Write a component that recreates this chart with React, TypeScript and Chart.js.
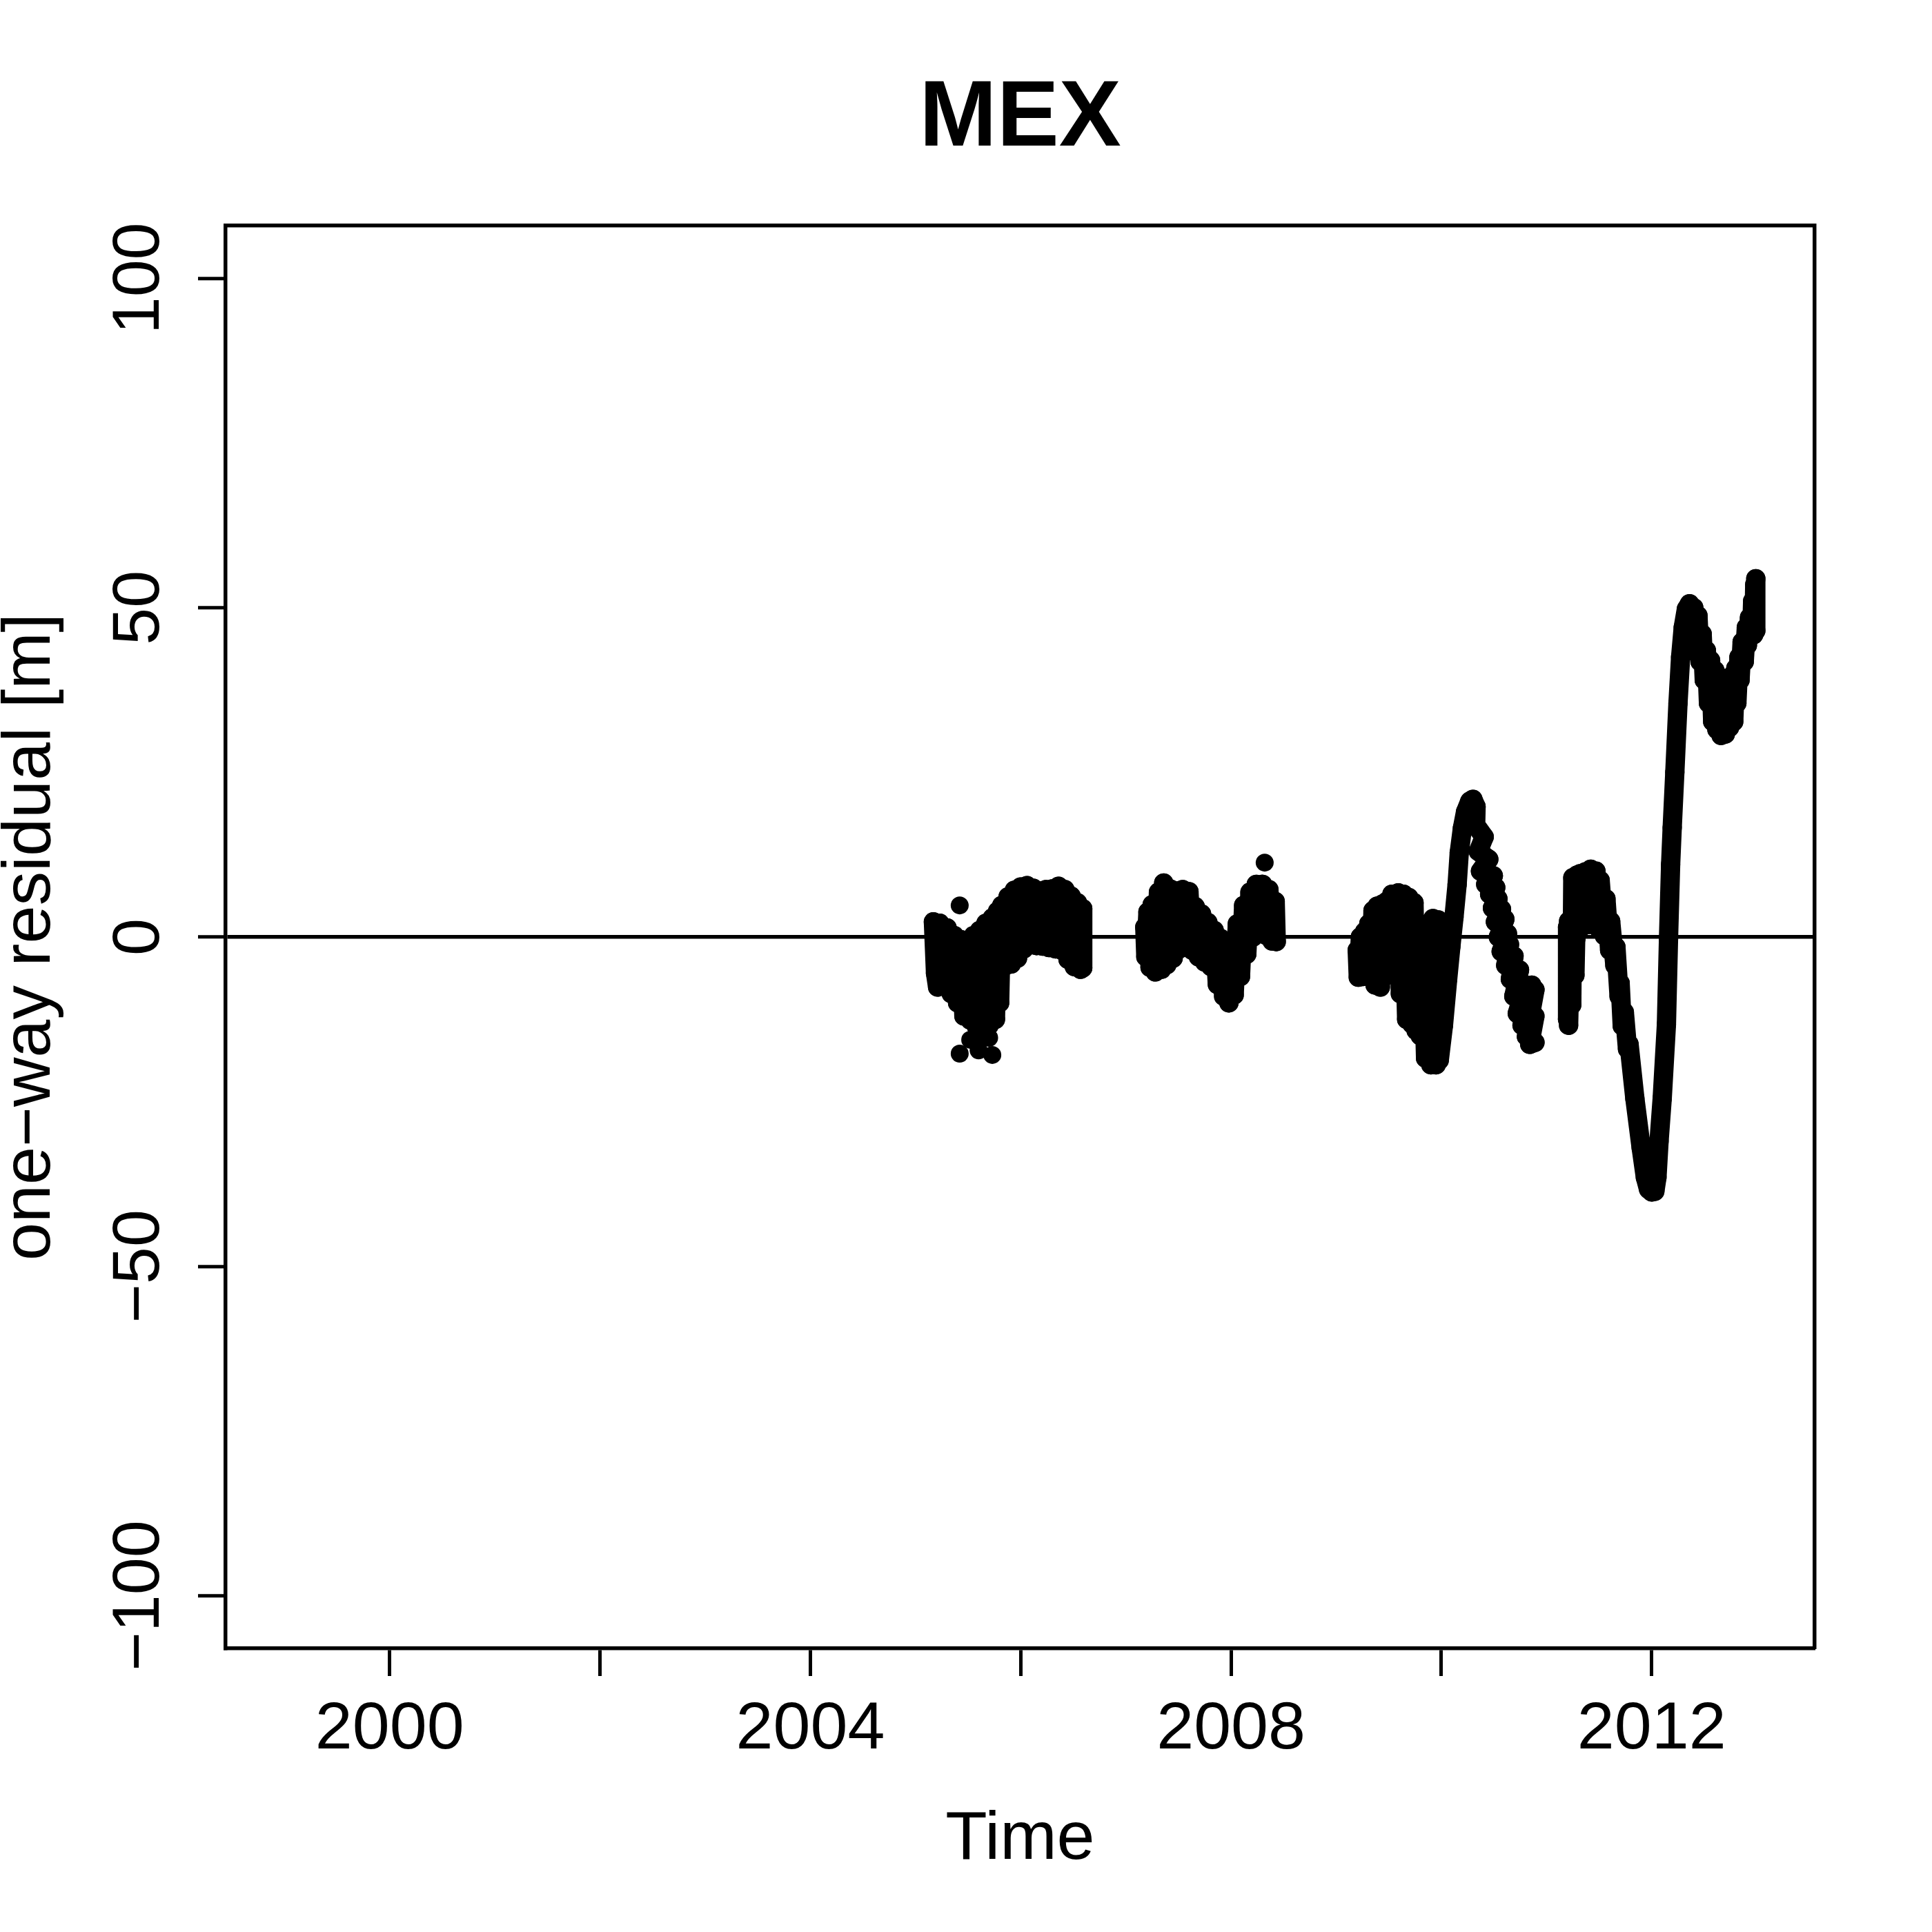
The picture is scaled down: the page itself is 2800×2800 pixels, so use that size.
import React, { useEffect, useRef } from 'react';
import { Chart, registerables } from 'chart.js';

Chart.register(...registerables);

const FONT = "'Liberation Sans', Arial, Helvetica, sans-serif";

// ---- data (decimal year, one-way residual in metres) ----
const seg1Years = [2005.17, 2005.19, 2005.21, 2005.23, 2005.27, 2005.30, 2005.34, 2005.37, 2005.40, 2005.43, 2005.46, 2005.49, 2005.52, 2005.55, 2005.58, 2005.61, 2005.64, 2005.67, 2005.70, 2005.73, 2005.76, 2005.78, 2005.80, 2005.82, 2005.85, 2005.88, 2005.91, 2005.94, 2005.97, 2006.00, 2006.03, 2006.06, 2006.09, 2006.12, 2006.15, 2006.18, 2006.21, 2006.24, 2006.27, 2006.30, 2006.33, 2006.36, 2006.39, 2006.42, 2006.45, 2006.48, 2006.51, 2006.54, 2006.57, 2006.59, 2006.59];
const seg1Resid = [2.3, -5.5, -7.6, 2.1, -7.2, 1.4, -8.6, 0.2, -10.0, -0.4, -12.0, -0.5, -12.6, 0.2, -13.6, 1.0, -13.8, 2.1, -13.4, 2.9, -12.5, 3.9, -10.0, 4.8, -4.4, 6.1, -4.1, 7.1, -3.2, 7.6, -1.8, 7.8, -1.2, 7.4, -1.3, 7.0, -1.4, 7.2, -1.6, 7.3, -1.8, 7.7, -2.0, 7.2, -3.4, 6.2, -4.5, 5.2, -4.9, 4.3, -4.7];

const seg2Years = [2007.18, 2007.19, 2007.21, 2007.23, 2007.25, 2007.28, 2007.31, 2007.34, 2007.36, 2007.39, 2007.42, 2007.45, 2007.48, 2007.51, 2007.54, 2007.57, 2007.60, 2007.63, 2007.66, 2007.69, 2007.72, 2007.75, 2007.78, 2007.81, 2007.84, 2007.87, 2007.90, 2007.93, 2007.96, 2007.98, 2008.00, 2008.03, 2008.06, 2008.09, 2008.12, 2008.15, 2008.18, 2008.21, 2008.24, 2008.27, 2008.30, 2008.33, 2008.36, 2008.39, 2008.42, 2008.43];
const seg2Resid = [1.5, -3.0, 3.8, -4.6, 4.9, -5.3, 6.8, -4.9, 8.2, -4.2, 7.3, -3.2, 7.0, -1.8, 7.2, -0.9, 6.9, -2.0, 4.6, -3.0, 3.5, -3.8, 2.2, -4.5, 1.0, -7.2, -0.2, -9.0, -1.0, -10.0, -0.6, -8.8, 2.0, -6.0, 4.8, -2.6, 6.8, 0.0, 8.0, 1.2, 8.0, 0.3, 7.2, -0.6, 5.4, -0.7];

const seg3Years = [2009.20, 2009.21, 2009.23, 2009.25, 2009.27, 2009.29, 2009.31, 2009.33, 2009.35, 2009.37, 2009.39, 2009.42, 2009.44, 2009.46, 2009.48, 2009.50, 2009.53, 2009.56, 2009.59, 2009.61, 2009.64, 2009.67, 2009.69, 2009.72, 2009.74, 2009.76, 2009.78, 2009.80, 2009.82, 2009.85, 2009.87, 2009.90, 2009.92, 2009.95, 2009.97, 2009.98, 2010.02, 2010.06, 2010.09, 2010.12, 2010.15, 2010.17, 2010.20, 2010.23, 2010.27, 2010.30, 2010.33, 2010.326, 2010.407, 2010.352, 2010.451, 2010.372, 2010.494, 2010.422, 2010.517, 2010.459, 2010.538, 2010.486, 2010.572, 2010.514, 2010.604, 2010.542, 2010.629, 2010.569, 2010.648, 2010.612, 2010.691, 2010.656, 2010.743, 2010.689, 2010.80, 2010.722, 2010.86, 2010.767, 2010.89, 2010.809, 2010.89, 2010.84, 2010.89];
const seg3Resid = [-2.0, -6.1, 0.0, -6.0, 0.8, -5.1, 2.0, -5.5, 4.0, -7.3, 4.7, -7.6, 5.0, -6.0, 5.4, -2.7, 6.5, -2.7, 6.7, -8.6, 6.5, -12.5, 6.0, -13.2, 5.2, -14.2, 2.0, -15.0, -0.7, -18.4, -1.0, -19.4, 2.8, -19.4, 2.6, -18.7, -13.4, -6.4, -1.5, 3.0, 8.0, 12.8, 16.5, 19.0, 20.6, 20.9, 19.8, 17.0, 15.2, 13.0, 11.8, 10.0, 9.3, 8.0, 7.5, 6.5, 5.8, 4.4, 4.2, 2.3, 2.7, 0.0, 0.5, -2.2, -1.15, -4.3, -2.9, -6.4, -5.0, -9.0, -7.3, -11.6, -7.3, -13.4, -8.0, -15.1, -12.0, -16.3, -16.0];

const seg4Years = [2011.20, 2011.20, 2011.21, 2011.21, 2011.23, 2011.24, 2011.25, 2011.27, 2011.29, 2011.28, 2011.32, 2011.34, 2011.37, 2011.40, 2011.42, 2011.45, 2011.47, 2011.50, 2011.51, 2011.55, 2011.565, 2011.60, 2011.61, 2011.65, 2011.66, 2011.69, 2011.70, 2011.72, 2011.74, 2011.77, 2011.785, 2011.84, 2011.90, 2011.94, 2011.97, 2012.00, 2012.03, 2012.05, 2012.07, 2012.10, 2012.14, 2012.16, 2012.18, 2012.195, 2012.22, 2012.25, 2012.275, 2012.30, 2012.33, 2012.36, 2012.38, 2012.40, 2012.42, 2012.44, 2012.46, 2012.48, 2012.50, 2012.52, 2012.54, 2012.56, 2012.58, 2012.60, 2012.62, 2012.64, 2012.66, 2012.68, 2012.70, 2012.72, 2012.74, 2012.76, 2012.78, 2012.80, 2012.81, 2012.83, 2012.84, 2012.86, 2012.88, 2012.90, 2012.91, 2012.93, 2012.95, 2012.96, 2012.97, 2012.98, 2012.99, 2012.99];
const seg4Resid = [1.5, -12.5, 2.4, -13.4, 1.0, -10.3, 9.0, -5.8, 9.4, -0.2, 9.6, 1.6, 9.9, 1.9, 10.3, 1.9, 10.0, 1.2, 8.6, 0.2, 5.8, -2.0, 2.4, -4.3, -1.5, -9.0, -7.0, -13.5, -11.4, -17.0, -16.3, -24.5, -32.0, -36.5, -38.3, -38.7, -38.6, -36.5, -31.0, -24.5, -13.3, -0.2, 11.0, 16.6, 25.0, 35.5, 42.5, 47.0, 49.8, 50.6, 44.5, 50.0, 43.2, 48.8, 41.8, 46.0, 39.0, 43.5, 35.5, 42.0, 32.7, 40.5, 31.5, 39.5, 30.6, 39.3, 30.8, 39.3, 31.8, 39.6, 32.7, 40.8, 35.5, 42.5, 39.0, 44.8, 41.8, 47.0, 44.3, 48.5, 45.8, 51.0, 45.9, 53.5, 46.5, 54.4];

// isolated observations
const outlierYears = [2005.42, 2005.42, 2005.52, 2005.60, 2005.64, 2005.73, 2005.70, 2008.32];
const outlierResid = [4.8, -17.7, -15.6, -17.2, -15.0, -17.9, -15.3, 11.3];

// axes
const xTickValues = [2000, 2002, 2004, 2006, 2008, 2010, 2012];
const xTickLabels = ['2000', '', '2004', '', '2008', '', '2012'];
const yTickValues = [-100, -50, 0, 50, 100];
const yTickLabels = ['\u2212100', '\u221250', '0', '50', '100'];
const xLimits = [1998.44, 2013.55];
const yLimits = [-108, 108];

const zip = (xs: number[], ys: number[]) => xs.map((x, i) => ({ x, y: ys[i] }));

export default function App() {
  const ref = useRef<HTMLCanvasElement | null>(null);

  useEffect(() => {
    if (!ref.current) return;
    const series = (xs: number[], ys: number[], line: boolean) => ({
      data: zip(xs, ys),
      showLine: line,
      borderColor: '#000',
      backgroundColor: '#000',
      pointBackgroundColor: '#000',
      pointBorderWidth: 0,
      pointRadius: line ? 14 : 13,
      pointHoverRadius: line ? 14 : 13,
      borderWidth: 28,
      borderJoinStyle: 'round',
      borderCapStyle: 'round',
      tension: 0,
    });

    const chart = new Chart(ref.current, {
      type: 'scatter',
      data: {
        datasets: [
          series(seg1Years, seg1Resid, true),
          series(seg2Years, seg2Resid, true),
          series(seg3Years, seg3Resid, true),
          series(seg4Years, seg4Resid, true),
          series(outlierYears, outlierResid, false),
        ] as any,
      },
      options: {
        responsive: false,
        animation: false,
        devicePixelRatio: 1,
        events: [],
        layout: { padding: 0 },
        plugins: {
          legend: { display: false },
          tooltip: { enabled: false },
          title: {
            display: true,
            text: 'MEX',
            fullSize: false,
            color: '#000',
            font: { family: FONT, size: 135, weight: 'bold', lineHeight: 1 },
            padding: { top: 106, bottom: 86 },
          },
        },
        scales: {
          x: {
            type: 'linear',
            position: 'bottom',
            min: xLimits[0],
            max: xLimits[1],
            afterBuildTicks: (axis: any) => {
              axis.ticks = xTickValues.map((v) => ({ value: v }));
            },
            afterFit: (s: any) => {
              s.height = 411;
            },
            ticks: {
              autoSkip: false,
              maxRotation: 0,
              minRotation: 0,
              padding: 20,
              color: '#000',
              font: { family: FONT, size: 97 },
              callback: (v: any) => {
                const i = xTickValues.indexOf(Number(v));
                return i >= 0 ? xTickLabels[i] : '';
              },
            },
            grid: {
              display: true,
              drawOnChartArea: false,
              drawTicks: true,
              tickLength: 40,
              tickColor: '#000',
              tickWidth: 5,
              color: '#000',
            },
            border: { display: true, color: '#000', width: 5.5 },
            title: {
              display: true,
              text: 'Time',
              color: '#000',
              font: { family: FONT, size: 99, lineHeight: 1 },
              padding: { top: 0, bottom: 84 },
            },
          },
          y: {
            type: 'linear',
            position: 'left',
            min: yLimits[0],
            max: yLimits[1],
            afterBuildTicks: (axis: any) => {
              axis.ticks = yTickValues.map((v) => ({ value: v }));
            },
            afterFit: (s: any) => {
              s.width = 327;
            },
            ticks: {
              autoSkip: false,
              minRotation: 90,
              maxRotation: 90,
              crossAlign: 'center',
              padding: -25,
              color: '#000',
              font: { family: FONT, size: 97 },
              callback: (v: any) => {
                const i = yTickValues.indexOf(Number(v));
                return i >= 0 ? yTickLabels[i] : '';
              },
            },
            grid: {
              display: true,
              drawOnChartArea: true,
              drawTicks: true,
              tickLength: 40,
              tickColor: '#000',
              tickWidth: 5,
              lineWidth: 5.5,
              color: (ctx: any) => (ctx.tick && ctx.tick.value === 0 ? '#000' : 'rgba(0,0,0,0)'),
            },
            border: { display: true, color: '#000', width: 5.5 },
            title: {
              display: true,
              text: 'one\u2212way residual [m]',
              color: '#000',
              font: { family: FONT, size: 99, lineHeight: 1 },
              padding: { top: -5, bottom: 0 },
            },
          },
          x2: {
            type: 'linear',
            position: 'top',
            axis: 'x',
            min: xLimits[0],
            max: xLimits[1],
            ticks: { display: false },
            grid: { display: false, drawTicks: false },
            border: { display: true, color: '#000', width: 5.5 },
            afterFit: (s: any) => {
              s.height = 0;
            },
          },
          y2: {
            type: 'linear',
            position: 'right',
            axis: 'y',
            min: yLimits[0],
            max: yLimits[1],
            ticks: { display: false },
            grid: { display: false, drawTicks: false },
            border: { display: true, color: '#000', width: 5.5 },
            afterFit: (s: any) => {
              s.width = 170;
            },
          },
        },
      } as any,
    });

    return () => chart.destroy();
  }, []);

  return (
    <div style={{ position: 'absolute', left: 0, top: 0, width: 2800, height: 2800, background: '#fff' }}>
      <canvas ref={ref} width={2800} height={2800} style={{ width: 2800, height: 2800, display: 'block' }} />
    </div>
  );
}
